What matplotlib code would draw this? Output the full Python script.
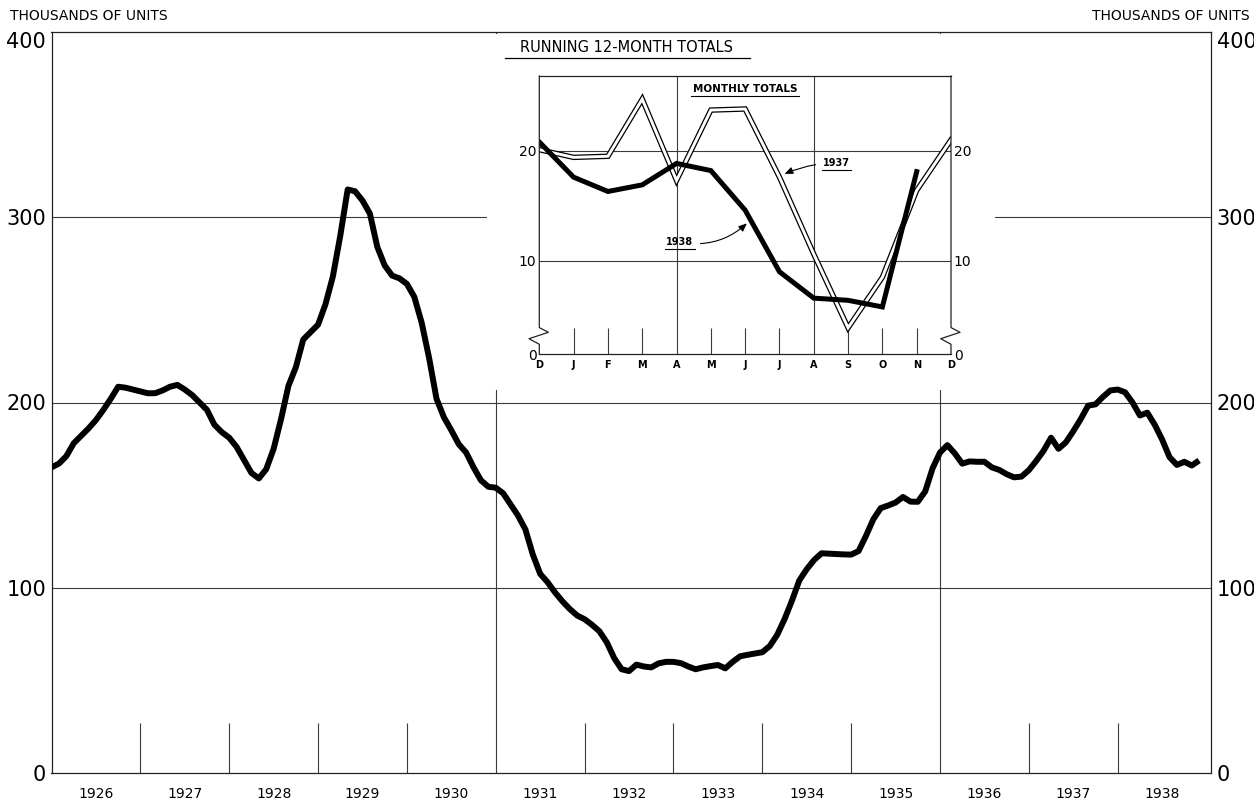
import matplotlib
matplotlib.use("Agg")
import matplotlib.pyplot as plt
from matplotlib.lines import Line2D
from matplotlib.text import Text

# running 12-month totals, thousands of units, one value per month Jan 1926 .. Dec 1938
running_totals = [
    165, 167, 171, 178, 182, 186, 190.5, 196, 202, 208.5, 208, 207,
    206, 205, 205, 206.5, 208.5, 209.5, 207, 204, 200, 196, 188, 184,
    181, 176, 169, 162, 159, 164, 175, 191, 209, 219, 234, 238,
    242, 253, 268, 290, 315, 314, 309, 302, 284, 274, 268.5, 267,
    264, 257, 243, 224, 202, 192, 185, 177.5, 173, 165, 158, 154.5,
    154, 151, 145, 139, 131.5, 118, 107.5, 103, 97.5, 92.7, 88.5, 85,
    83, 80, 76.5, 70.5, 62, 56, 55, 58.5, 57.5, 57, 59.2, 60,
    60, 59.3, 57.5, 56, 57, 57.7, 58.3, 56.5, 60, 63, 63.8, 64.5,
    65.2, 68.5, 74.5, 83, 93, 104, 110, 115, 118.6, 118.4, 118.2, 118,
    117.9, 119.8, 128, 137, 143, 144.4, 146, 149, 146.5, 146.4, 152, 164.5,
    173, 177, 172.5, 167, 168.2, 168, 168, 165, 163.6, 161.3, 159.6, 160,
    163.5, 168.5, 174, 181, 175, 178.5, 184.5, 191, 198.3, 199, 203, 206.5,
    207, 205.5, 200, 193, 194.5, 188, 180, 170.5, 166.3, 168, 166, 168.7,
]
start_year = 1926
years = list(range(1926, 1939))
main_yticks = [0, 100, 200, 300, 400]
full_year_lines = [1931, 1936]

# inset: monthly totals, thousands of units
inset_months = ["D", "J", "F", "M", "A", "M", "J", "J", "A", "S", "O", "N", "D"]
monthly_1937 = [20.1, 19.4, 19.5, 24.7, 17.3, 23.7, 23.8, 17.6, 10.6, 3.9, 8.5, 16.4, 21.0]
monthly_1938 = [20.8, 17.6, 16.3, 16.9, 18.85, 18.2, 14.6, 9.0, 6.6, 6.4, 5.8, 18.1]

W, H = 1254, 801
fig = plt.figure(figsize=(W / 100, H / 100), dpi=100)
plt.rcParams['font.family'] = ['DejaVu Sans']

def fig_box(x0, y0, x1, y1):
    # pixel box (top-left origin) -> figure fraction rect
    return [x0 / W, 1 - y1 / H, (x1 - x0) / W, (y1 - y0) / H]

grid_col = "#3a3a3a"

# ---- main chart ----
ax = fig.add_axes(fig_box(51.5, 32, 1211, 773))
xs = [start_year + i / 12 for i in range(len(running_totals))]

for v in main_yticks[1:-1]:
    ax.axhline(v, color=grid_col, lw=0.8, zorder=1)
for yr in years[1:]:
    if yr in full_year_lines:
        ax.axvline(yr, color=grid_col, lw=0.8, zorder=1)
    else:
        ax.vlines(yr, 0, 27, color=grid_col, lw=0.8, zorder=1)

ax.plot(xs, running_totals, color="black", lw=4.3, solid_joinstyle="round",
        solid_capstyle="butt", zorder=3)

ax.set_xlim(1926.0, 1939.05)
ax.set_ylim(0, 400)
ax.set_xticks([y + 0.5 for y in years])
ax.set_xticklabels([str(y) for y in years], fontsize=10)
ax.set_yticks(main_yticks)
ax.set_yticklabels([str(v) for v in main_yticks], fontsize=15)
ax.tick_params(axis="both", length=0)
ax.tick_params(axis="x", pad=10)
ax.tick_params(axis="y", pad=4, right=True, labelright=True)
for t in ax.yaxis.get_major_ticks():
    if t.label1.get_text() == "400":
        t.label1.set_va("top")
    if t.label2.get_text() == "400":
        t.label2.set_va("top")
for s in ax.spines.values():
    s.set_linewidth(0.9)
    s.set_color("#222222")

fig.text(10 / W, 1 - 16 / H, "THOUSANDS OF UNITS", fontsize=10, va="center", ha="left")
fig.text(1250 / W, 1 - 16 / H, "THOUSANDS OF UNITS", fontsize=10, va="center", ha="right")

# white panel hiding the grid behind the inset
panel = fig.add_axes(fig_box(487, 33.5, 995, 390))
panel.set_facecolor("white")
panel.set_xticks([])
panel.set_yticks([])
for s in panel.spines.values():
    s.set_visible(False)

title = fig.text(627 / W, 1 - 48 / H, "RUNNING 12-MONTH TOTALS", fontsize=10.5,
                 ha="center", va="center")

# ---- inset: monthly totals ----
ins = fig.add_axes(fig_box(539.3, 76, 951, 354))
ymin, ymax = 1.52, 26.8
ins.set_xlim(0, 12)
ins.set_ylim(ymin, ymax)
for v in (10, 20):
    ins.axhline(v, color=grid_col, lw=0.8, zorder=1)
for i in range(1, 12):
    if i in (4, 8):
        ins.axvline(i, color=grid_col, lw=0.8, zorder=1)
    else:
        ins.vlines(i, ymin, 3.9, color=grid_col, lw=0.8, zorder=1)

ix37 = list(range(len(monthly_1937)))
ix38 = list(range(len(monthly_1938)))
ins.plot(ix37, monthly_1937, color="black", lw=3.9, solid_joinstyle="miter", zorder=3)
ins.plot(ix37, monthly_1937, color="white", lw=2.1, solid_joinstyle="miter", zorder=4)
ins.plot(ix38, monthly_1938, color="black", lw=3.6, solid_joinstyle="miter", zorder=5)

ins.set_xticks(range(len(inset_months)))
ins.set_xticklabels(inset_months, fontsize=7, fontweight="bold")
ins.set_yticks([ymin, 10, 20])
ins.set_yticklabels(["0", "10", "20"], fontsize=10)
ins.tick_params(axis="both", length=0)
ins.tick_params(axis="x", pad=4)
ins.tick_params(axis="y", pad=2, right=True, labelright=True)
ins.spines["left"].set_visible(False)
ins.spines["right"].set_visible(False)
for s in ("top", "bottom"):
    ins.spines[s].set_linewidth(0.9)
    ins.spines[s].set_color("#222222")

# side spines with the broken-scale zigzag
for x0 in (0.0, 1.0):
    zx = [x0, x0, x0 - 0.025, x0 + 0.022, x0, x0]
    zy = [0.0, 0.035, 0.055, 0.078, 0.095, 1.0]
    ins.add_line(Line2D(zx, zy, transform=ins.transAxes, color="#222222", lw=0.9,
                        clip_on=False, zorder=6))

sub = ins.text(6, 25.6, "MONTHLY TOTALS", fontsize=7.5, fontweight="bold",
               ha="center", va="center", zorder=6)

a37 = ins.annotate("1937", xy=(7.15, 17.9), xytext=(8.65, 18.9),
                   fontsize=7, fontweight="bold", ha="center", va="center",
                   arrowprops=dict(arrowstyle="-|>,head_length=0.7,head_width=0.3",
                                   color="black", lw=0.8, shrinkA=3, shrinkB=0,
                                   connectionstyle="arc3,rad=0.1"), zorder=7)
a38 = ins.annotate("1938", xy=(6.05, 13.4), xytext=(4.1, 11.7),
                   fontsize=7, fontweight="bold", ha="center", va="center",
                   arrowprops=dict(arrowstyle="-|>,head_length=0.7,head_width=0.3",
                                   color="black", lw=0.8, shrinkA=3, shrinkB=0,
                                   connectionstyle="arc3,rad=0.25"), zorder=7)

# underline the labels (text box only, not the arrows)
fig.canvas.draw()
inv = fig.transFigure.inverted()
for t, extra in ((title, 16), (sub, 2), (a37, 1), (a38, 1)):
    bb = Text.get_window_extent(t)
    (x0, y0), (x1, _) = inv.transform([(bb.x0 - extra, bb.y0 - 2), (bb.x1 + extra, bb.y0 - 2)])
    fig.add_artist(Line2D([x0, x1], [y0, y0], transform=fig.transFigure,
                          color="black", lw=0.9 if t is title else 0.8))

fig.savefig("out.png", dpi=100, facecolor="white")
